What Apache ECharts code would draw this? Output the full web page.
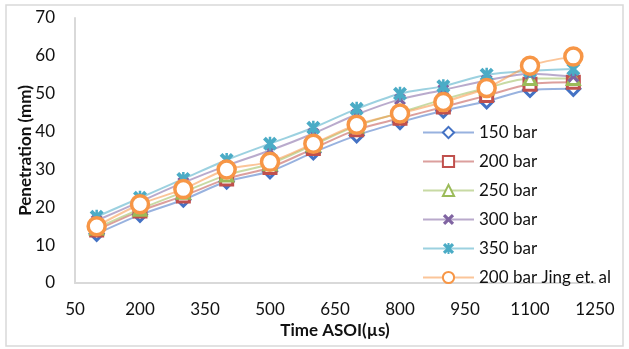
<!DOCTYPE html>
<html>
<head>
<meta charset="utf-8">
<script src="https://cdn.jsdelivr.net/npm/echarts@6/dist/echarts.min.js"></script>
<style>
  html, body { margin: 0; padding: 0; background: #fff; }
  #chart { width: 629px; height: 349px; }
</style>
</head>
<body>
<div id="chart"></div>
<script>
// 时间 (µs)
const times = [100, 200, 300, 400, 500, 600, 700, 800, 900, 1000, 1100, 1200]
// 各压力下的贯穿距 (mm)
const bar150 = [13, 18, 22, 26.8, 29.5, 34.5, 39, 42.5, 45.5, 48, 51, 51.3]
const bar200 = [14, 19, 23, 27.5, 30.5, 35.5, 40.5, 43.5, 46.5, 49.5, 52.5, 53]
const bar250 = [14.5, 19.5, 24, 28.5, 31.5, 36.5, 41.5, 45, 48.5, 51.5, 54, 54]
const bar300 = [16.5, 21.5, 26.5, 31, 35, 39.5, 44.5, 48.5, 51, 53.5, 55.3, 54.5]
const bar350 = [17.5, 22.5, 27.5, 32.5, 36.8, 41, 46, 50, 52, 55, 56, 56.5]
const jing200 = [15, 20.8, 24.8, 30, 32, 36.8, 41.8, 44.8, 47.8, 51.5, 57.4, 59.8]
const seriesNames = ['150 bar', '200 bar', '250 bar', '300 bar', '350 bar', '200 bar Jing et. al']

const xPath = 'path://M0,2 L2,0 L5,3 L8,0 L10,2 L7,5 L10,8 L8,10 L5,7 L2,10 L0,8 L3,5 Z'
const starPath = 'path://M0,2 L2,0 L5,3 L8,0 L10,2 L7,5 L10,8 L8,10 L5,7 L2,10 L0,8 L3,5 Z M4.1,0 L5.9,0 L5.9,10 L4.1,10 Z'

const font = 'Lato, "Open Sans", sans-serif'

// 生成系列
function makeSeries(name, values, color, symbol, size, hollow, border) {
    return {
        name: name,
        type: 'line',
        smooth: 0.3,
        data: times.map((t, i) => [t, values[i]]),
        symbol: symbol,
        symbolSize: size,
        showSymbol: true,
        lineStyle: { color: color, width: 2, opacity: 0.55 },
        itemStyle: hollow
            ? { color: '#fff', borderColor: color, borderWidth: border || 3 }
            : { color: color, borderWidth: 0 },
        emphasis: { disabled: true }
    }
}

const option = {
    animation: false,
    textStyle: { fontFamily: font },
    graphic: [
        {
            type: 'rect',
            shape: { x: 6, y: 5, width: 617, height: 341 },
            style: { fill: 'none', stroke: '#d9d9d9', lineWidth: 1.5 },
            z: -1
        }
    ],
    grid: { left: 75, right: 34, top: 18, bottom: 66 },
    legend: {
        orient: 'vertical',
        left: 417,
        top: 119,
        itemWidth: 51,
        itemHeight: 14,
        itemGap: 12,
        textStyle: { fontSize: 17, color: '#111', fontFamily: font },
        data: seriesNames
    },
    xAxis: {
        type: 'value',
        min: 50,
        max: 1250,
        interval: 150,
        name: 'Time ASOI(µs)',
        nameLocation: 'middle',
        nameGap: 39,
        nameMoveOverlap: false,
        nameTextStyle: { fontSize: 17, fontWeight: 'bold', color: '#111' },
        axisLine: { show: true, lineStyle: { color: '#d9d9d9', width: 2 } },
        axisTick: { show: false },
        splitLine: { show: false },
        axisLabel: { fontSize: 17, color: '#111', margin: 18, formatter: (v) => String(v) }
    },
    yAxis: {
        type: 'value',
        min: 0,
        max: 70,
        interval: 10,
        name: 'Penetration (mm)',
        nameLocation: 'middle',
        nameGap: 41,
        nameMoveOverlap: false,
        nameTextStyle: { fontSize: 17, fontWeight: 'bold', color: '#111' },
        axisLine: { show: true, lineStyle: { color: '#d9d9d9', width: 2 } },
        axisTick: { show: false },
        splitLine: { show: false },
        axisLabel: { fontSize: 17, color: '#111', margin: 20 }
    },
    series: [
        makeSeries(seriesNames[0], bar150, '#4472C4', 'diamond', 13, true),
        makeSeries(seriesNames[1], bar200, '#C0504D', 'rect', 12, true),
        makeSeries(seriesNames[2], bar250, '#9BBB59', 'triangle', 12, true),
        makeSeries(seriesNames[3], bar300, '#8064A2', xPath, 12, false),
        makeSeries(seriesNames[4], bar350, '#4BACC6', starPath, 14, false),
        makeSeries(seriesNames[5], jing200, '#F79646', 'circle', 17, true, 3.5)
    ]
}

const myChart = echarts.init(document.getElementById('chart'))
myChart.setOption(option)
window.addEventListener('resize', () => {
    myChart.resize()
})
</script>
</body>
</html>
